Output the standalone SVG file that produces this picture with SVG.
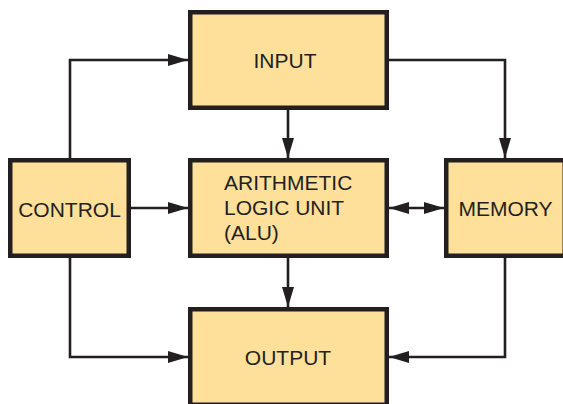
<svg xmlns="http://www.w3.org/2000/svg" width="563" height="404" viewBox="0 0 563 404">
<defs>
<style>
.box{fill:#FEE09B;stroke:#231F20;stroke-width:4.5}
.lbl{font-family:"Liberation Sans",Arial,sans-serif;font-size:21px;fill:#231F20}
.mid{text-anchor:middle}
.wire{fill:none;stroke:#231F20;stroke-width:2.6}
</style>
<marker id="ah" markerUnits="userSpaceOnUse" markerWidth="20" markerHeight="12" viewBox="0 0 20 12" refX="20" refY="6" orient="auto-start-reverse">
<path d="M0,0 L20,6 L0,12 Z" fill="#231F20"/>
</marker>
</defs>
<rect width="563" height="404" fill="#FFFFFF"/>
<g id="connectors">
<path class="wire" d="M70,158 V60 H188" marker-end="url(#ah)"/>
<path class="wire" d="M389,60 H505 V158" marker-end="url(#ah)"/>
<path class="wire" d="M288,110 V158" marker-end="url(#ah)"/>
<path class="wire" d="M131,208 H188" marker-end="url(#ah)"/>
<path class="wire" d="M389,208 H444" marker-start="url(#ah)" marker-end="url(#ah)"/>
<path class="wire" d="M288,258 V307" marker-end="url(#ah)"/>
<path class="wire" d="M70,258 V357 H188" marker-end="url(#ah)"/>
<path class="wire" d="M505,258 V357 H389" marker-end="url(#ah)"/>
</g>
<g id="input">
<rect class="box" x="190.25" y="12.25" width="196.5" height="95.5"/>
<text class="lbl mid" x="285" y="68.3">INPUT</text>
</g>
<g id="alu">
<rect class="box" x="190.25" y="160.25" width="196.5" height="95.5"/>
<text class="lbl" x="224" y="190">ARITHMETIC</text>
<text class="lbl" x="224" y="215">LOGIC UNIT</text>
<text class="lbl" x="224" y="240">(ALU)</text>
</g>
<g id="control">
<rect class="box" x="10.25" y="160.25" width="118.5" height="95.5"/>
<text class="lbl mid" x="69.5" y="216.7">CONTROL</text>
</g>
<g id="memory">
<rect class="box" x="446.25" y="160.25" width="118.5" height="95.5"/>
<text class="lbl mid" x="505.5" y="215.7">MEMORY</text>
</g>
<g id="output">
<rect class="box" x="190.25" y="309.25" width="196.5" height="95.5"/>
<text class="lbl mid" x="288" y="365">OUTPUT</text>
</g>
</svg>
